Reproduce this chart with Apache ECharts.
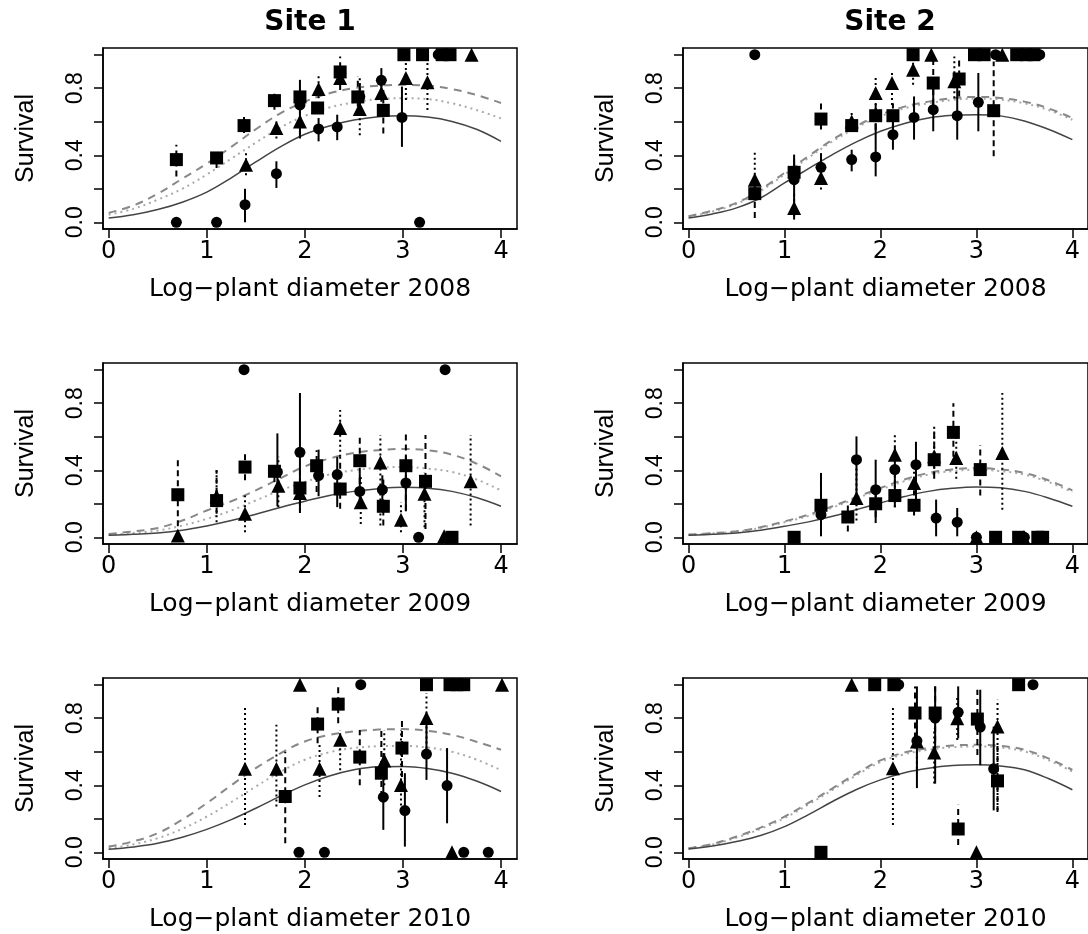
<!DOCTYPE html>
<html><head><meta charset="utf-8">
<script src="https://cdn.jsdelivr.net/npm/echarts@6/dist/echarts.min.js"></script>
<style>html,body{margin:0;padding:0;background:#fff}#c{width:1088px;height:934px}</style>
</head><body><div id="c"></div>
<script>
// ---------- DATA ----------
const SITE_TITLES = ['Site 1', 'Site 2'];
const X_LABELS = ['Log\u2212plant diameter 2008', 'Log\u2212plant diameter 2009', 'Log\u2212plant diameter 2010'];
const X_TICKS = [0, 1, 2, 3, 4];
const Y_TICKS = [0, 0.2, 0.4, 0.6, 0.8, 1.0];
const Y_TICK_LABELS = [0, 0.4, 0.8];
const CURVE_X = [0, 0.25, 0.5, 0.75, 1, 1.25, 1.5, 1.75, 2, 2.25, 2.5, 2.75, 3, 3.25, 3.5, 3.75, 4];

// points: [x, survival, lower, upper]
// Site 1, 2008
const S1_2008_CIRCLE = [[0.69,0],[1.10,0],[1.39,0.105,0.0,0.20],[1.71,0.29,0.205,0.364],[1.95,0.70,0.51,0.85],[2.14,0.557,0.483,0.622],[2.33,0.569,0.49,0.642],[2.56,0.75,0.67,0.83],[2.78,0.847,0.75,0.92],[2.99,0.626,0.45,0.81],[3.17,0],[3.36,1.0]];
const S1_2008_SQUARE = [[0.69,0.374,0.274,0.463],[1.10,0.384,0.324,0.443],[1.38,0.577,0.533,0.632],[1.69,0.726,0.672,0.77],[1.95,0.748],[2.13,0.682],[2.36,0.897,0.80,0.99],[2.54,0.748,0.69,0.87],[2.80,0.668,0.53,0.79],[3.01,1.0],[3.20,1.0],[3.40,1.0],[3.48,1.0]];
const S1_2008_TRIANGLE = [[1.40,0.344,0.28,0.42],[1.71,0.563,0.50,0.61],[1.95,0.602,0.50,0.70],[2.14,0.795,0.74,0.88],[2.36,0.861,0.79,0.89],[2.56,0.676,0.52,0.87],[2.78,0.771,0.72,0.86],[3.03,0.861,0.73,0.97],[3.25,0.835,0.67,0.97],[3.70,1.0]];
const S1_2008_SOLID = [0.026,0.045,0.076,0.12,0.18,0.265,0.36,0.45,0.525,0.575,0.61,0.63,0.636,0.628,0.602,0.555,0.483];
const S1_2008_DASHED = [0.056,0.10,0.17,0.26,0.35,0.45,0.555,0.65,0.72,0.77,0.80,0.815,0.82,0.815,0.795,0.76,0.712];
const S1_2008_DOTTED = [0.045,0.08,0.135,0.20,0.285,0.38,0.475,0.565,0.635,0.685,0.715,0.735,0.74,0.735,0.71,0.67,0.62];

// Site 2, 2008
const S2_2008_CIRCLE = [[0.69,1.0],[1.10,0.254,0.016,0.404],[1.38,0.328,0.245,0.413],[1.70,0.374,0.304,0.433],[1.95,0.39,0.274,0.592],[2.13,0.523,0.433,0.602],[2.35,0.626,0.493,0.751],[2.55,0.672,0.543,0.811],[2.80,0.636,0.493,0.811],[3.02,0.716,0.543,0.891],[3.20,1.0],[3.66,1.0]];
const S2_2008_SQUARE = [[0.69,0.171,0.026,0.274],[1.10,0.298,0.22,0.38],[1.38,0.616,0.553,0.712],[1.70,0.577,0.54,0.62],[1.95,0.636,0.55,0.72],[2.13,0.636,0.56,0.71],[2.34,1.0],[2.55,0.831,0.70,0.97],[2.82,0.855,0.75,0.99],[2.98,1.0],[3.08,1.0],[3.18,0.666,0.394,0.96],[3.42,1.0],[3.52,1.0],[3.60,1.0]];
const S2_2008_TRIANGLE = [[0.69,0.254,0.135,0.423],[1.10,0.085,0.036,0.175],[1.38,0.264,0.195,0.314],[1.70,0.602,0.55,0.66],[1.95,0.771,0.61,0.87],[2.12,0.831,0.70,0.90],[2.34,0.91,0.82,0.97],[2.53,1.0],[2.77,0.841,0.74,0.99],[3.27,1.0]];
const S2_2008_SOLID = [0.026,0.05,0.086,0.145,0.235,0.32,0.404,0.48,0.543,0.59,0.622,0.638,0.642,0.635,0.605,0.555,0.493];
const S2_2008_DASHED = [0.036,0.07,0.116,0.195,0.295,0.395,0.493,0.575,0.642,0.69,0.72,0.74,0.748,0.742,0.72,0.68,0.622];
const S2_2008_DOTTED = [0.033,0.065,0.11,0.187,0.285,0.385,0.483,0.565,0.632,0.68,0.71,0.73,0.738,0.732,0.71,0.67,0.612];

// Site 1, 2009
const S1_2009_CIRCLE = [[1.38,1.0],[1.72,0.39,0.185,0.62],[1.95,0.507,0.145,0.861],[2.14,0.368,0.245,0.523],[2.33,0.374,0.18,0.48],[2.56,0.274,0.18,0.38],[2.79,0.284,0.19,0.37],[3.03,0.324,0.155,0.483],[3.16,0],[3.43,1.0]];
const S1_2009_SQUARE = [[0.705,0.254,0.006,0.483],[1.10,0.219,0.14,0.40],[1.39,0.419,0.34,0.51],[1.69,0.394,0.33,0.45],[1.95,0.294,0.19,0.40],[2.12,0.427,0.27,0.52],[2.36,0.288,0.17,0.48],[2.56,0.457,0.26,0.60],[2.80,0.185,0.07,0.36],[3.03,0.427,0.16,0.62],[3.23,0.334,0.05,0.61],[3.50,0]];
const S1_2009_TRIANGLE = [[0.705,0.01],[1.10,0.245,0.09,0.41],[1.39,0.141,0.03,0.25],[1.73,0.308,0.18,0.48],[1.95,0.264,0.16,0.36],[2.36,0.652,0.48,0.76],[2.57,0.209,0.08,0.36],[2.77,0.447,0.07,0.61],[2.98,0.105,0.03,0.21],[3.22,0.26,0.06,0.39],[3.42,0.006],[3.69,0.334,0.07,0.61]];
const S1_2009_SOLID = [0.012,0.018,0.026,0.042,0.068,0.1,0.138,0.178,0.215,0.25,0.274,0.29,0.298,0.293,0.274,0.237,0.185];
const S1_2009_DASHED = [0.02,0.035,0.056,0.1,0.16,0.215,0.28,0.352,0.423,0.47,0.503,0.52,0.527,0.52,0.493,0.44,0.364];
const S1_2009_DOTTED = [0.015,0.025,0.04,0.07,0.11,0.16,0.22,0.28,0.33,0.375,0.40,0.415,0.42,0.41,0.39,0.345,0.28];

// Site 2, 2009
const S2_2009_CIRCLE = [[1.38,0.135,0.006,0.384],[1.75,0.463,0.185,0.602],[1.95,0.284,0.085,0.463],[2.15,0.404,0.26,0.54],[2.37,0.433,0.18,0.57],[2.58,0.115,0.006,0.225],[2.80,0.09,0.006,0.175],[3.00,0],[3.50,0],[3.70,0]];
const S2_2009_SQUARE = [[1.10,0],[1.38,0.191,0.12,0.38],[1.66,0.121,0.035,0.19],[1.95,0.20,0.12,0.30],[2.15,0.249,0.18,0.30],[2.35,0.191,0.13,0.28],[2.56,0.463,0.35,0.66],[2.76,0.626,0.48,0.80],[3.04,0.404,0.25,0.55],[3.20,0],[3.44,0],[3.64,0],[3.69,0]];
const S2_2009_TRIANGLE = [[1.75,0.235,0.10,0.46],[2.15,0.493,0.18,0.62],[2.35,0.324,0.26,0.44],[2.56,0.483,0.38,0.65],[2.79,0.473,0.35,0.60],[3.00,0],[3.27,0.503,0.165,0.861],[3.49,0]];
const S2_2009_SOLID = [0.012,0.018,0.026,0.042,0.066,0.092,0.125,0.165,0.205,0.243,0.274,0.292,0.30,0.295,0.274,0.235,0.185];
const S2_2009_DASHED = [0.016,0.025,0.036,0.06,0.095,0.135,0.185,0.24,0.294,0.345,0.384,0.405,0.413,0.405,0.384,0.34,0.28];
const S2_2009_DOTTED = [0.015,0.023,0.034,0.056,0.09,0.128,0.177,0.232,0.285,0.335,0.374,0.395,0.403,0.395,0.374,0.33,0.27];

// Site 1, 2010
const S1_2010_CIRCLE = [[1.94,0],[2.20,0],[2.57,1.0],[2.80,0.329,0.134,0.592],[3.02,0.249,0.034,0.472],[3.24,0.586,0.432,0.771],[3.45,0.398,0.173,0.622],[3.62,0],[3.87,0]];
const S1_2010_SQUARE = [[1.80,0.333,0.054,0.60],[2.13,0.765,0.65,0.89],[2.34,0.884,0.77,0.99],[2.56,0.568,0.40,0.73],[2.78,0.472,0.33,0.73],[2.99,0.622,0.45,0.79],[3.24,1.0],[3.48,1.0],[3.55,1.0],[3.62,1.0]];
const S1_2010_TRIANGLE = [[1.39,0.498,0.163,0.861],[1.71,0.498,0.273,0.761],[1.95,1.0],[2.15,0.498,0.33,0.64],[2.36,0.671,0.49,0.73],[2.81,0.548,0.40,0.73],[2.98,0.402,0.25,0.73],[3.24,0.801,0.59,0.95],[3.50,0],[4.01,1.0]];
const S1_2010_SOLID = [0.018,0.032,0.054,0.09,0.137,0.195,0.263,0.335,0.402,0.455,0.492,0.51,0.512,0.50,0.472,0.425,0.363];
const S1_2010_DASHED = [0.034,0.065,0.114,0.195,0.293,0.40,0.502,0.59,0.661,0.70,0.721,0.732,0.735,0.725,0.701,0.66,0.612];
const S1_2010_DOTTED = [0.024,0.047,0.084,0.14,0.213,0.30,0.392,0.48,0.552,0.597,0.622,0.633,0.635,0.625,0.60,0.553,0.49];

// Site 2, 2010
const S2_2010_CIRCLE = [[2.19,1.0],[2.38,0.665,0.383,0.99],[2.57,0.80,0.41,0.99],[2.81,0.835,0.68,0.99],[3.04,0.747,0.52,0.97],[3.18,0.498,0.25,0.75],[3.59,1.0]];
const S2_2010_SQUARE = [[1.38,0],[1.94,1.0],[2.14,1.0],[2.36,0.831,0.62,0.99],[2.57,0.831,0.66,0.99],[2.81,0.139,0.044,0.283],[3.01,0.795,0.58,0.97],[3.22,0.426,0.24,0.64],[3.44,1.0]];
const S2_2010_TRIANGLE = [[1.70,1.0],[2.13,0.502,0.163,0.861],[2.38,0.661,0.50,0.82],[2.56,0.596,0.41,0.74],[2.80,0.80,0.67,0.93],[3.00,0],[3.22,0.751,0.253,0.91]];
const S2_2010_SOLID = [0.02,0.037,0.064,0.10,0.153,0.225,0.303,0.375,0.432,0.475,0.502,0.518,0.522,0.515,0.492,0.44,0.373];
const S2_2010_DASHED = [0.024,0.05,0.094,0.147,0.213,0.295,0.382,0.47,0.548,0.595,0.622,0.637,0.641,0.635,0.612,0.56,0.492];
const S2_2010_DOTTED = [0.022,0.046,0.088,0.14,0.204,0.285,0.372,0.46,0.538,0.585,0.612,0.627,0.631,0.625,0.602,0.55,0.482];

// ---------- LAYOUT ----------
const PANELS = [
  {row:0,col:0,c:S1_2008_CIRCLE,s:S1_2008_SQUARE,t:S1_2008_TRIANGLE,solid:S1_2008_SOLID,dashed:S1_2008_DASHED,dotted:S1_2008_DOTTED},
  {row:0,col:1,c:S2_2008_CIRCLE,s:S2_2008_SQUARE,t:S2_2008_TRIANGLE,solid:S2_2008_SOLID,dashed:S2_2008_DASHED,dotted:S2_2008_DOTTED},
  {row:1,col:0,c:S1_2009_CIRCLE,s:S1_2009_SQUARE,t:S1_2009_TRIANGLE,solid:S1_2009_SOLID,dashed:S1_2009_DASHED,dotted:S1_2009_DOTTED},
  {row:1,col:1,c:S2_2009_CIRCLE,s:S2_2009_SQUARE,t:S2_2009_TRIANGLE,solid:S2_2009_SOLID,dashed:S2_2009_DASHED,dotted:S2_2009_DOTTED},
  {row:2,col:0,c:S1_2010_CIRCLE,s:S1_2010_SQUARE,t:S1_2010_TRIANGLE,solid:S1_2010_SOLID,dashed:S1_2010_DASHED,dotted:S1_2010_DOTTED},
  {row:2,col:1,c:S2_2010_CIRCLE,s:S2_2010_SQUARE,t:S2_2010_TRIANGLE,solid:S2_2010_SOLID,dashed:S2_2010_DASHED,dotted:S2_2010_DOTTED}
];
const COL_LEFT = [103, 683];
const ROW_TOP = [48, 363, 678];
const BOX_W = 414, BOX_H = 181;

const grid = [], xAxis = [], yAxis = [], series = [];
function barRenderer(dash) {
  return function (params, api) {
    const a = api.coord([api.value(0), api.value(1)]);
    const b = api.coord([api.value(0), api.value(2)]);
    return {type:'line', shape:{x1:a[0],y1:a[1],x2:b[0],y2:b[1]},
      style:{stroke:'#000', lineWidth:2, lineDash:dash}};
  };
}
PANELS.forEach((p, i) => {
  grid.push({left:COL_LEFT[p.col], top:ROW_TOP[p.row], width:BOX_W, height:BOX_H,
    show:true, borderColor:'#000', borderWidth:1.5, backgroundColor:'transparent'});
  xAxis.push({gridIndex:i, type:'value', min:-0.058, max:4.163,
    axisLine:{show:true, onZero:false, lineStyle:{color:'#000', width:1.5}},
    axisTick:{show:true, inside:false, length:9, customValues:X_TICKS, lineStyle:{color:'#000', width:1.5}},
    axisLabel:{show:true, customValues:X_TICKS, fontFamily:'DejaVu Sans', fontSize:24, color:'#000', margin:11},
    splitLine:{show:false},
    name:X_LABELS[p.row], nameLocation:'middle', nameGap:48,
    nameTextStyle:{fontFamily:'DejaVu Sans', fontSize:25, color:'#000'}});
  yAxis.push({gridIndex:i, type:'value', min:-0.04, max:1.04,
    axisLine:{show:true, onZero:false, lineStyle:{color:'#000', width:1.5}},
    axisTick:{show:true, inside:false, length:9, customValues:Y_TICKS, lineStyle:{color:'#000', width:1.5}},
    axisLabel:{show:true, customValues:Y_TICK_LABELS, rotate:90, formatter:v => Number(v).toFixed(1),
      fontFamily:'Liberation Sans', fontSize:23, color:'#000', margin:16},
    splitLine:{show:false},
    name:'Survival', nameLocation:'middle', nameRotate:90, nameGap:64,
    nameTextStyle:{fontFamily:'Liberation Sans', fontSize:25, color:'#000'}});
  const curve = vals => CURVE_X.map((x, k) => [x, vals[k]]);
  series.push({type:'line', xAxisIndex:i, yAxisIndex:i, data:curve(p.dotted), smooth:0.4, symbol:'none', silent:true, z:1,
    lineStyle:{color:'#aaa', width:2, type:[2,4]}});
  series.push({type:'line', xAxisIndex:i, yAxisIndex:i, data:curve(p.dashed), smooth:0.4, symbol:'none', silent:true, z:1,
    lineStyle:{color:'#888', width:2, type:[8,6]}});
  series.push({type:'line', xAxisIndex:i, yAxisIndex:i, data:curve(p.solid), smooth:0.4, symbol:'none', silent:true, z:1,
    lineStyle:{color:'#444', width:1.5}});
  const bars = pts => pts.filter(q => q.length > 2).map(q => [q[0], q[2], q[3]]);
  [[p.c, null], [p.s, [6,4]], [p.t, [2,3]]].forEach(([pts, dash]) => {
    series.push({type:'custom', xAxisIndex:i, yAxisIndex:i, data:bars(pts), encode:{x:0, y:[1,2]},
      renderItem:barRenderer(dash), clip:false, silent:true, z:2});
  });
  const pts2 = pts => pts.map(q => [q[0], q[1]]);
  series.push({type:'scatter', xAxisIndex:i, yAxisIndex:i, data:pts2(p.c), symbol:'circle', symbolSize:11, clip:false, z:3, itemStyle:{color:'#000', opacity:1}});
  series.push({type:'scatter', xAxisIndex:i, yAxisIndex:i, data:pts2(p.s), symbol:'rect', symbolSize:13, clip:false, z:3, itemStyle:{color:'#000', opacity:1}});
  series.push({type:'scatter', xAxisIndex:i, yAxisIndex:i, data:pts2(p.t), symbol:'triangle', symbolSize:14, clip:false, z:3, itemStyle:{color:'#000', opacity:1}});
});

const chart = echarts.init(document.getElementById('c'), null, {renderer:'canvas'});
chart.setOption({
  backgroundColor:'#fff',
  animation:false,
  grid, xAxis, yAxis, series,
  graphic: SITE_TITLES.map((t, k) => ({type:'text', x:COL_LEFT[k] + BOX_W/2, y:23,
    style:{text:t, fill:'#000', font:'bold 28px "DejaVu Sans"', textAlign:'center', align:'center', textVerticalAlign:'middle', verticalAlign:'middle'}}))
});
</script></body></html>
